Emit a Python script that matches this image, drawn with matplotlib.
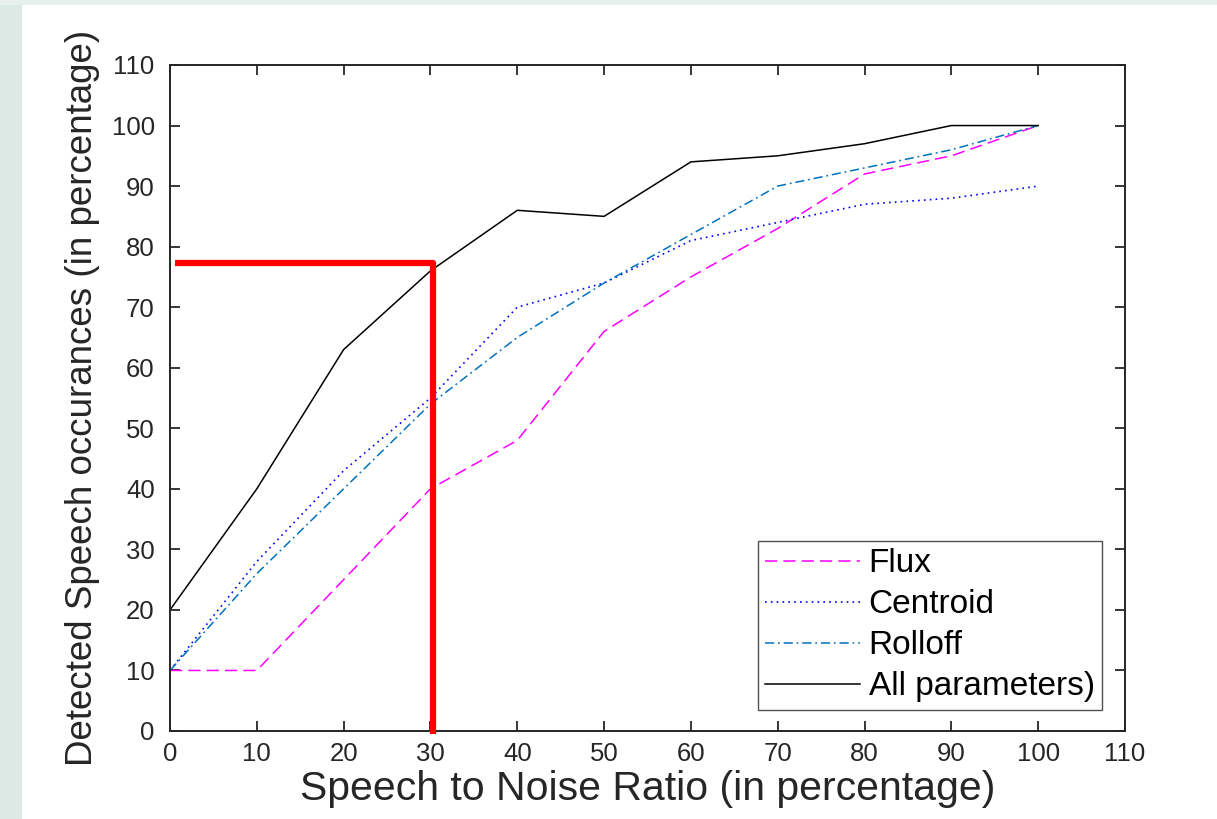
import matplotlib
matplotlib.use("Agg")
import matplotlib.pyplot as plt
import numpy as np
from matplotlib.patches import Rectangle

snr = [0, 10, 20, 30, 40, 50, 60, 70, 80, 90, 100]
flux = [10, 10, 25, 40, 48, 66, 75, 83, 92, 95, 100]
centroid = [10, 28, 43, 55, 70, 74, 81, 84, 87, 88, 90]
rolloff = [10, 26, 40, 54, 65, 74, 82, 90, 93, 96, 100]
all_params = [20, 40, 63, 76, 86, 85, 94, 95, 97, 100, 100]
ticks = list(range(0, 111, 10))
marker_x = [0.6, 30.3, 30.3]
marker_y = [77.3, 77.3, -0.5]

plt.rcParams['font.family'] = ['Liberation Sans', 'DejaVu Sans']

fig = plt.figure(figsize=(12.17, 8.19), dpi=100)
fig.patch.set_facecolor('white')
# light frame on left and top
fig.patches.append(Rectangle((0, 0), 22/1217, 1, transform=fig.transFigure,
                             facecolor='#dde9e5', edgecolor='none', zorder=0))
fig.patches.append(Rectangle((0, 1-5/819), 1, 5/819, transform=fig.transFigure,
                             facecolor='#e8f0ed', edgecolor='none', zorder=0))

ax = fig.add_axes([170/1217, 88/819, 955/1217, 666/819])
ax.plot(snr, flux, color='#ff00ff', linestyle=(0, (8, 4)), lw=1.1, label='Flux')
ax.plot(snr, centroid, color='#0000ff', linestyle=(0, (1, 2.5)), lw=1.2, label='Centroid')
ax.plot(snr, rolloff, color='#0072bd', linestyle=(0, (6, 2.5, 1.2, 2.5)), lw=1.1, label='Rolloff')
ax.plot(snr, all_params, color='black', lw=1.1, label='All parameters)')
ax.plot(marker_x, marker_y, color='#ff0000', lw=4.5, solid_joinstyle='round',
        solid_capstyle='butt', clip_on=False, zorder=5)

ax.set_xlim(0, 110)
ax.set_ylim(0, 110)
ax.set_xticks(ticks)
ax.set_yticks(ticks)
ax.tick_params(direction='in', length=7, width=1.3, top=True, right=True,
               labelsize=18.5, colors='#262626')
ax.tick_params(axis='y', pad=11)
ax.tick_params(axis='x', pad=8)
for s in ax.spines.values():
    s.set_linewidth(1.4)
    s.set_color('#262626')
ax.set_xlabel('Speech to Noise Ratio (in percentage)', fontsize=29.5, color='#262626', labelpad=3)
ax.set_ylabel('Detected Speech occurances (in percentage)', fontsize=26.5, color='#262626', labelpad=8)

leg = ax.legend(loc='lower right', bbox_to_anchor=(0.976, 0.032), fontsize=24,
                frameon=True, fancybox=False, edgecolor='#262626', handlelength=2.85,
                handletextpad=0.25, borderpad=0.22, labelspacing=0.3, borderaxespad=0)
leg.get_frame().set_linewidth(1.0)

fig.savefig('out.png', dpi=100, facecolor=fig.get_facecolor())
